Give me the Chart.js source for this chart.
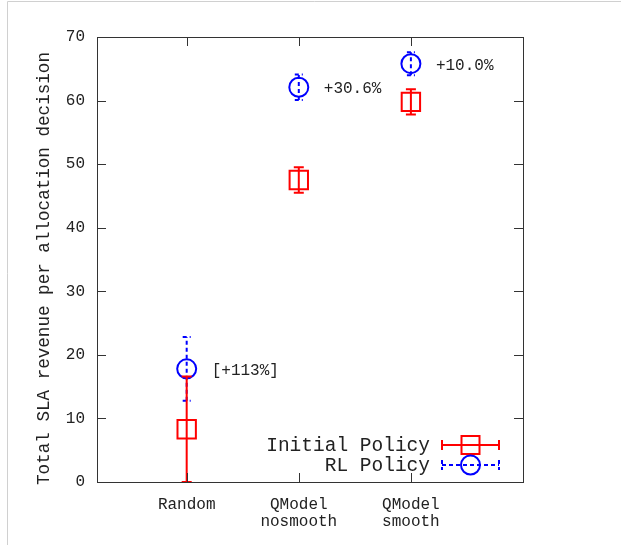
<!DOCTYPE html>
<html>
<head>
<meta charset="utf-8">
<script src="https://cdn.jsdelivr.net/npm/chart.js@4.4.1/dist/chart.umd.min.js"></script>
<style>
  html, body { margin: 0; padding: 0; background: #fff; }
  #wrap { width: 621px; height: 545px; position: relative; }
</style>
</head>
<body>
<div id="wrap"><canvas id="c" width="621" height="545"></canvas></div>
<script>
// categories on the x axis (positions 1, 2, 3)
const categories = [['Random'], ['QModel', 'nosmooth'], ['QModel', 'smooth']];
const yTicks = [0, 10, 20, 30, 40, 50, 60, 70];
const yTitle = 'Total SLA revenue per allocation decision';

// Initial Policy: mean and +/- error
const initialMean = [8.3, 47.5, 59.8];
const initialErr = [8.3, 2.0, 2.0];

// RL Policy: mean and +/- error
const rlMean = [17.8, 62.1, 65.8];
const rlErr = [5.0, 2.0, 1.8];

// improvement labels next to the RL points
const gainLabels = ['[+113%]', '+30.6%', '+10.0%'];

const MONO = '"Liberation Mono", "DejaVu Sans Mono", monospace';
const INK = '#222';

const xs = categories.map((_, i) => i + 1);
const toPoints = (means) => means.map((m, i) => ({ x: xs[i], y: m }));

const seriesStyle = [
  { color: '#ff0000', dash: [], cap: 5 },
  { color: '#0000ff', dash: [4, 3], cap: 4 }
];
const errors = [initialErr, rlErr];

// error bars, drawn right after each dataset
const errorBars = {
  id: 'errorBars',
  afterDatasetDraw(chart, args) {
    const i = args.index;
    const st = seriesStyle[i];
    const ctx = chart.ctx;
    const xS = chart.scales.x, yS = chart.scales.y;
    const ds = chart.data.datasets[i];
    ctx.save();
    ctx.strokeStyle = st.color;
    ctx.lineWidth = 2;
    ctx.setLineDash(st.dash);
    ds.data.forEach((p, k) => {
      const px = xS.getPixelForValue(p.x);
      const lo = yS.getPixelForValue(p.y - errors[i][k]);
      const hi = yS.getPixelForValue(p.y + errors[i][k]);
      ctx.beginPath();
      ctx.moveTo(px, lo); ctx.lineTo(px, hi);
      ctx.moveTo(px - st.cap, lo); ctx.lineTo(px + st.cap, lo);
      ctx.moveTo(px - st.cap, hi); ctx.lineTo(px + st.cap, hi);
      ctx.stroke();
    });
    ctx.restore();
  }
};

// gnuplot style frame, inward ticks, labels and key
const decorations = {
  id: 'decorations',
  beforeDraw(chart) {
    const ctx = chart.ctx;
    ctx.save();
    ctx.strokeStyle = '#d0d0d0';
    ctx.lineWidth = 1;
    ctx.beginPath();
    ctx.moveTo(7.5, 545); ctx.lineTo(7.5, 1.5); ctx.lineTo(621, 1.5);
    ctx.stroke();
    ctx.restore();
  },
  afterDraw(chart) {
    const ctx = chart.ctx;
    const a = chart.chartArea;
    const xS = chart.scales.x, yS = chart.scales.y;
    const tl = 9;
    ctx.save();
    ctx.strokeStyle = '#333';
    ctx.lineWidth = 1;
    ctx.setLineDash([]);
    ctx.strokeRect(Math.round(a.left) + 0.5, Math.round(a.top) + 0.5,
      Math.round(a.right - a.left), Math.round(a.bottom - a.top));
    ctx.beginPath();
    yTicks.forEach(v => {
      const y = Math.round(yS.getPixelForValue(v)) + 0.5;
      ctx.moveTo(a.left, y); ctx.lineTo(a.left + tl, y);
      ctx.moveTo(a.right, y); ctx.lineTo(a.right - tl, y);
    });
    xs.forEach(v => {
      const x = Math.round(xS.getPixelForValue(v)) + 0.5;
      ctx.moveTo(x, a.bottom); ctx.lineTo(x, a.bottom - tl);
      ctx.moveTo(x, a.top); ctx.lineTo(x, a.top + tl);
    });
    ctx.stroke();

    // y axis title
    ctx.fillStyle = INK;
    ctx.save();
    ctx.translate(44, (a.top + a.bottom) / 2 + 9);
    ctx.rotate(-Math.PI / 2);
    ctx.font = '17.6px ' + MONO;
    ctx.textAlign = 'center';
    ctx.textBaseline = 'middle';
    ctx.fillText(yTitle, 0, 0);
    ctx.restore();

    // gain labels beside the RL points
    ctx.font = '16px ' + MONO;
    ctx.textAlign = 'left';
    ctx.textBaseline = 'middle';
    gainLabels.forEach((t, k) => {
      ctx.fillText(t, xS.getPixelForValue(xs[k]) + 25, yS.getPixelForValue(rlMean[k]) + 2);
    });

    // key, bottom right inside the plot
    const keyRight = a.right - 93;
    const sx0 = a.right - 81, sx1 = a.right - 24, smid = (sx0 + sx1) / 2;
    const rows = [a.bottom - 37, a.bottom - 17];
    ctx.font = '19.5px ' + MONO;
    ctx.textAlign = 'right';
    chart.data.datasets.forEach((ds, i) => {
      const y = rows[i];
      const st = seriesStyle[i];
      ctx.fillStyle = INK;
      ctx.fillText(ds.label, keyRight, y + 1);
      ctx.strokeStyle = st.color;
      ctx.lineWidth = 2;
      ctx.setLineDash(st.dash);
      ctx.beginPath();
      ctx.moveTo(sx0, y); ctx.lineTo(sx1, y);
      ctx.moveTo(sx0, y - 5); ctx.lineTo(sx0, y + 5);
      ctx.moveTo(sx1, y - 5); ctx.lineTo(sx1, y + 5);
      ctx.stroke();
      ctx.setLineDash([]);
      ctx.beginPath();
      if (i === 0) {
        ctx.rect(smid - 9, y - 9, 18, 18);
      } else {
        ctx.arc(smid, y, 9.5, 0, Math.PI * 2);
      }
      ctx.stroke();
    });
    ctx.restore();
  }
};

new Chart(document.getElementById('c'), {
  type: 'scatter',
  data: {
    datasets: [
      {
        label: 'Initial Policy',
        data: toPoints(initialMean),
        pointStyle: 'rect',
        pointRadius: 13,
        pointBorderWidth: 2,
        borderColor: '#ff0000',
        backgroundColor: 'rgba(0,0,0,0)'
      },
      {
        label: 'RL Policy',
        data: toPoints(rlMean),
        pointStyle: 'circle',
        pointRadius: 9.5,
        pointBorderWidth: 2,
        borderColor: '#0000ff',
        backgroundColor: 'rgba(0,0,0,0)'
      }
    ]
  },
  options: {
    responsive: false,
    animation: false,
    events: [],
    layout: { padding: { top: 37, right: 98, left: 0, bottom: 0 } },
    plugins: {
      legend: { display: false },
      tooltip: { enabled: false }
    },
    scales: {
      x: {
        type: 'linear',
        min: 0.2,
        max: 4.0,
        grid: { display: false },
        border: { display: false },
        afterBuildTicks: (scale) => { scale.ticks = xs.map(v => ({ value: v })); },
        afterFit: (scale) => { scale.height = 63; },
        ticks: {
          color: INK,
          font: { family: MONO, size: 16, lineHeight: 1.06 },
          padding: 6,
          maxRotation: 0,
          autoSkip: false,
          callback: (v) => categories[v - 1] || ''
        }
      },
      y: {
        min: 0,
        max: 70,
        grid: { display: false },
        border: { display: false },
        afterFit: (scale) => { scale.width = 97; },
        ticks: {
          stepSize: 10,
          color: INK,
          font: { family: MONO, size: 16 },
          padding: 4
        }
      }
    }
  },
  plugins: [errorBars, decorations]
});
</script>
</body>
</html>
